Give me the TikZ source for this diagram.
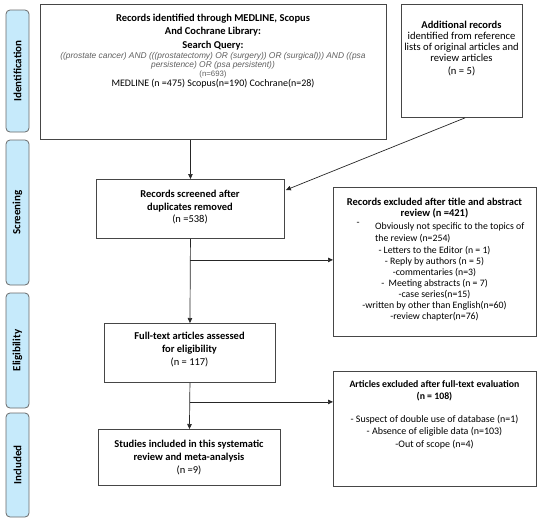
\documentclass[tikz,border=0pt]{standalone}
\usepackage{fontspec}
\setmainfont{Carlito}
\newfontfamily\arialf{Liberation Sans}
\usetikzlibrary{arrows.meta,calc}
\definecolor{sidefill}{RGB}{198,234,251}
\definecolor{sideline}{RGB}{105,105,105}
\definecolor{boxline}{RGB}{70,70,70}
\definecolor{querygray}{RGB}{95,95,95}
\tikzset{
  box/.style={draw=boxline, line width=0.9pt, fill=white, inner sep=0pt, anchor=north west},
  side/.style={draw=sideline, fill=sidefill, line width=0.8pt, rounded corners=4pt, rotate=90, inner sep=0pt, minimum height=23pt, font=\bfseries\fontsize{11}{12}\selectfont},
  txt/.style={anchor=north, inner sep=0pt, align=center},
  conn/.style={draw=black!85, line width=0.7pt},
  arr/.style={conn, -{Triangle[length=5pt,width=4.5pt]}}
}
\begin{document}
\begin{tikzpicture}[x=1pt,y=-1pt]
\useasboundingbox (0,0) rectangle (550,523);
% phase labels
\node[side, minimum width=122pt] (sid) at (17.5,71) {Identification};
\node[side, minimum width=145pt] (sscr) at (17.5,212.5) {Screening};
\node[side, minimum width=115pt] (selg) at (17.5,350.5) {Eligibility};
\node[side, minimum width=104pt] (sinc) at (17.5,465) {Included};
% boxes
\node[box, minimum width=346pt, minimum height=135pt] (b1) at (40,4) {};
\node[box, minimum width=121pt, minimum height=113pt] (add) at (401,4) {};
\node[box, minimum width=188pt, minimum height=59pt] (sc) at (96,179) {};
\node[box, minimum width=203pt, minimum height=149pt] (ex1) at (333,187) {};
\node[box, minimum width=171pt, minimum height=59pt] (ft) at (104,323) {};
\node[box, minimum width=203pt, minimum height=115pt] (ex2) at (333,371) {};
\node[box, minimum width=182pt, minimum height=56pt] (inc) at (98,429) {};
% box 1 text
\node[txt, font=\bfseries\fontsize{10.5}{13.5}\selectfont] (t1) at (213,13.5)
  {Records identified through MEDLINE, Scopus\\And Cochrane Library:\\Search Query:};
\node[txt, font=\arialf\itshape\fontsize{8.4}{9}\selectfont, text=querygray] (q1) at (213,52)
  {((prostate cancer) AND (((prostatectomy) OR (surgery)) OR (surgical))) AND ((psa\\persistence) OR (psa persistent))};
\node[txt, font=\arialf\fontsize{7.8}{9}\selectfont, text=querygray] (q2) at (213,70.5)
  {(n=693)};
\node[txt, font=\fontsize{10}{12}\selectfont] (q3) at (213,78.5)
  {MEDLINE (n =475) Scopus(n=190) Cochrane(n=28)};
% additional records
\node[txt, font=\fontsize{10.6}{11}\selectfont] (t2) at (461.5,20.5)
  {{\bfseries\fontsize{10.5}{11}\selectfont Additional records}\\identified from reference\\lists of original articles and\\review articles\\[2pt](n = 5)};
% screened
\node[txt, font=\bfseries\fontsize{10.5}{12.5}\selectfont] (t3) at (190,190)
  {Records screened after\\duplicates removed\\{\mdseries(n =538)}};
% excluded 1
\node[txt, font=\bfseries\fontsize{10.5}{11}\selectfont] (t4) at (434.5,198)
  {Records excluded after title and abstract\\review (n =421)};
\node[anchor=north, inner sep=0pt, font=\fontsize{9.8}{11}\selectfont] (t4d) at (358,222) {-};
\node[anchor=north west, inner sep=0pt, align=left, font=\fontsize{9.8}{12.5}\selectfont] (t4a) at (375,222)
  {Obviously not specific to the topics of\\the review (n=254)};
\node[txt, font=\fontsize{9.8}{11}\selectfont] (t4b) at (434.5,246)
  {- Letters to the Editor (n = 1)\\- Reply by authors (n = 5)\\-commentaries (n=3)\\-\ \ Meeting abstracts (n = 7)\\-case series(n=15)\\-written by other than English(n=60)\\-review chapter(n=76)};
% full-text
\node[txt, font=\bfseries\fontsize{10.5}{13}\selectfont] (t5) at (189.5,332)
  {Full-text articles assessed\\for eligibility\\{\mdseries(n = 117)}};
% excluded 2
\node[txt, font=\bfseries\fontsize{9.8}{12}\selectfont] (t6) at (434.5,380)
  {Articles excluded after full-text evaluation\\(n = 108)};
\node[txt, font=\fontsize{10}{12.3}\selectfont] (t6b) at (434.5,415)
  {- Suspect of double use of database (n=1)\\- Absence of eligible data (n=103)\\-Out of scope (n=4)};
% included
\node[txt, font=\bfseries\fontsize{10.5}{13}\selectfont] (t7) at (189,440)
  {Studies included in this systematic\\review and meta-analysis\\{\mdseries(n =9)}};
% connectors
\coordinate (j1) at ($(sc.south)+(0,21)$);
\coordinate (j2) at ($(ft.south)+(0,19)$);
\coordinate (scin) at ($(sc.north east)+(1,11)$);
\coordinate (addout) at ($(add.south)+(3,0)$);
\draw[arr] (b1.south -| sc.north) -- (sc.north);
\draw[arr] (addout) -- (scin);
\draw[arr] (sc.south) -- (ft.north);
\draw[arr] (j1) -- (j1 -| ex1.west);
\draw[arr] (ft.south) -- (inc.north);
\draw[arr] (j2) -- (j2 -| ex2.west);
\end{tikzpicture}
\end{document}
